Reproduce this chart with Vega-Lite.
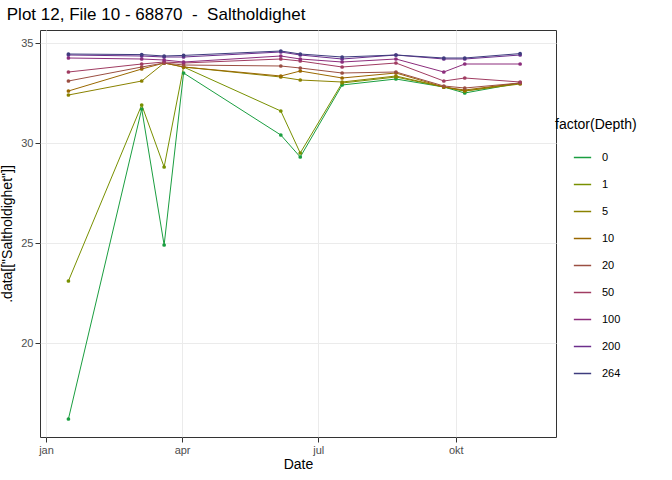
{
  "$schema": "https://vega.github.io/schema/vega-lite/v6.json",
  "width": 516,
  "height": 407,
  "autosize": "none",
  "padding": {"left": 40, "top": 30, "right": 116, "bottom": 43},
  "background": "white",
  "title": {"text": "Plot 12, File 10 - 68870\u00a0\u00a0-\u00a0\u00a0Saltholdighet", "anchor": "start", "fontSize": 17, "font": "Liberation Sans", "fontWeight": "normal", "offset": 6, "dx": 6, "frame": "bounds"},
  "config": {
    "font": "Liberation Sans",
    "view": {"stroke": "#333333", "strokeWidth": 1},
    "axis": {"gridColor": "#ebebeb", "domain": false, "tickColor": "#333333", "labelColor": "#4d4d4d", "labelFontSize": 11, "titleFontSize": 14, "titleFontWeight": "normal", "titleColor": "black"}
  },
  "data": {"values": [
    {"Date":"2000-01-16","Depth":0,"v":16.2},{"Date":"2000-03-05","Depth":0,"v":31.7},{"Date":"2000-03-20","Depth":0,"v":24.9},{"Date":"2000-04-02","Depth":0,"v":33.5},{"Date":"2000-06-06","Depth":0,"v":30.4},{"Date":"2000-06-19","Depth":0,"v":29.3},{"Date":"2000-07-17","Depth":0,"v":32.9},{"Date":"2000-08-22","Depth":0,"v":33.2},{"Date":"2000-09-23","Depth":0,"v":32.8},{"Date":"2000-10-07","Depth":0,"v":32.5},{"Date":"2000-11-13","Depth":0,"v":33.0},
    {"Date":"2000-01-16","Depth":1,"v":23.1},{"Date":"2000-03-05","Depth":1,"v":31.9},{"Date":"2000-03-20","Depth":1,"v":28.8},{"Date":"2000-04-02","Depth":1,"v":33.8},{"Date":"2000-06-06","Depth":1,"v":31.6},{"Date":"2000-06-19","Depth":1,"v":29.5},{"Date":"2000-07-17","Depth":1,"v":33.0},{"Date":"2000-08-22","Depth":1,"v":33.3},{"Date":"2000-09-23","Depth":1,"v":32.8},{"Date":"2000-10-07","Depth":1,"v":32.6},{"Date":"2000-11-13","Depth":1,"v":33.0},
    {"Date":"2000-01-16","Depth":5,"v":32.4},{"Date":"2000-03-05","Depth":5,"v":33.1},{"Date":"2000-03-20","Depth":5,"v":34.0},{"Date":"2000-04-02","Depth":5,"v":33.8},{"Date":"2000-06-06","Depth":5,"v":33.3},{"Date":"2000-06-19","Depth":5,"v":33.15},{"Date":"2000-07-17","Depth":5,"v":33.05},{"Date":"2000-08-22","Depth":5,"v":33.35},{"Date":"2000-09-23","Depth":5,"v":32.8},{"Date":"2000-10-07","Depth":5,"v":32.6},{"Date":"2000-11-13","Depth":5,"v":32.95},
    {"Date":"2000-01-16","Depth":10,"v":32.6},{"Date":"2000-03-05","Depth":10,"v":33.7},{"Date":"2000-03-20","Depth":10,"v":34.0},{"Date":"2000-04-02","Depth":10,"v":33.8},{"Date":"2000-06-06","Depth":10,"v":33.35},{"Date":"2000-06-19","Depth":10,"v":33.6},{"Date":"2000-07-17","Depth":10,"v":33.25},{"Date":"2000-08-22","Depth":10,"v":33.5},{"Date":"2000-09-23","Depth":10,"v":32.8},{"Date":"2000-10-07","Depth":10,"v":32.65},{"Date":"2000-11-13","Depth":10,"v":33.0},
    {"Date":"2000-01-16","Depth":20,"v":33.1},{"Date":"2000-03-05","Depth":20,"v":33.8},{"Date":"2000-03-20","Depth":20,"v":34.0},{"Date":"2000-04-02","Depth":20,"v":33.9},{"Date":"2000-06-06","Depth":20,"v":33.85},{"Date":"2000-06-19","Depth":20,"v":33.75},{"Date":"2000-07-17","Depth":20,"v":33.5},{"Date":"2000-08-22","Depth":20,"v":33.55},{"Date":"2000-09-23","Depth":20,"v":32.85},{"Date":"2000-10-07","Depth":20,"v":32.75},{"Date":"2000-11-13","Depth":20,"v":33.0},
    {"Date":"2000-01-16","Depth":50,"v":33.55},{"Date":"2000-03-05","Depth":50,"v":33.95},{"Date":"2000-03-20","Depth":50,"v":34.05},{"Date":"2000-04-02","Depth":50,"v":34.0},{"Date":"2000-06-06","Depth":50,"v":34.2},{"Date":"2000-06-19","Depth":50,"v":34.1},{"Date":"2000-07-17","Depth":50,"v":33.8},{"Date":"2000-08-22","Depth":50,"v":34.0},{"Date":"2000-09-23","Depth":50,"v":33.1},{"Date":"2000-10-07","Depth":50,"v":33.25},{"Date":"2000-11-13","Depth":50,"v":33.05},
    {"Date":"2000-01-16","Depth":100,"v":34.25},{"Date":"2000-03-05","Depth":100,"v":34.2},{"Date":"2000-03-20","Depth":100,"v":34.15},{"Date":"2000-04-02","Depth":100,"v":34.05},{"Date":"2000-06-06","Depth":100,"v":34.35},{"Date":"2000-06-19","Depth":100,"v":34.2},{"Date":"2000-07-17","Depth":100,"v":34.05},{"Date":"2000-08-22","Depth":100,"v":34.2},{"Date":"2000-09-23","Depth":100,"v":33.55},{"Date":"2000-10-07","Depth":100,"v":33.95},{"Date":"2000-11-13","Depth":100,"v":33.95},
    {"Date":"2000-01-16","Depth":200,"v":34.4},{"Date":"2000-03-05","Depth":200,"v":34.35},{"Date":"2000-03-20","Depth":200,"v":34.3},{"Date":"2000-04-02","Depth":200,"v":34.3},{"Date":"2000-06-06","Depth":200,"v":34.55},{"Date":"2000-06-19","Depth":200,"v":34.4},{"Date":"2000-07-17","Depth":200,"v":34.2},{"Date":"2000-08-22","Depth":200,"v":34.4},{"Date":"2000-09-23","Depth":200,"v":34.2},{"Date":"2000-10-07","Depth":200,"v":34.2},{"Date":"2000-11-13","Depth":200,"v":34.4},
    {"Date":"2000-01-16","Depth":264,"v":34.45},{"Date":"2000-03-05","Depth":264,"v":34.42},{"Date":"2000-03-20","Depth":264,"v":34.35},{"Date":"2000-04-02","Depth":264,"v":34.38},{"Date":"2000-06-06","Depth":264,"v":34.6},{"Date":"2000-06-19","Depth":264,"v":34.45},{"Date":"2000-07-17","Depth":264,"v":34.3},{"Date":"2000-08-22","Depth":264,"v":34.4},{"Date":"2000-09-23","Depth":264,"v":34.25},{"Date":"2000-10-07","Depth":264,"v":34.25},{"Date":"2000-11-13","Depth":264,"v":34.47}
  ]},
  "encoding": {
    "x": {"field": "Date", "type": "temporal", "title": "Date",
      "scale": {"type": "utc", "domain": [{"year": 1999, "month": 12, "date": 28, "utc": true}, {"year": 2000, "month": 12, "date": 7, "utc": true}]},
      "axis": {"values": [{"year": 2000, "month": 1, "date": 1, "utc": true}, {"year": 2000, "month": 4, "date": 1, "utc": true}, {"year": 2000, "month": 7, "date": 1, "utc": true}, {"year": 2000, "month": 10, "date": 1, "utc": true}],
        "labelExpr": "['jan','feb','mar','apr','mai','jun','jul','aug','sep','okt','nov','des'][utcmonth(datum.value)]", "titlePadding": 2}},
    "y": {"field": "v", "type": "quantitative", "title": ".data[[\"Saltholdighet\"]]",
      "scale": {"domain": [15.3, 35.65], "nice": false, "zero": false},
      "axis": {"values": [20, 25, 30, 35], "titlePadding": 6}},
    "color": {"field": "Depth", "type": "ordinal", "title": "factor(Depth)",
      "scale": {"domain": [0, 1, 5, 10, 20, 50, 100, 200, 264], "range": ["#1a9e40", "#789000", "#8a8200", "#9a6800", "#9b4f42", "#a03c62", "#8c2d7c", "#6c2e8c", "#3e3c7e"]},
      "legend": {"orient": "none", "legendX": 515, "legendY": 88, "titleFontSize": 14, "titleFontWeight": "normal", "labelFontSize": 11, "labelOffset": 10, "rowPadding": 12, "symbolType": "stroke", "symbolSize": 300, "padding": 0, "titlePadding": 16, "symbolOffset": 18}}
  },
  "layer": [
    {"mark": {"type": "line", "strokeWidth": 1}},
    {"mark": {"type": "circle", "size": 14, "opacity": 1}}
  ]
}
